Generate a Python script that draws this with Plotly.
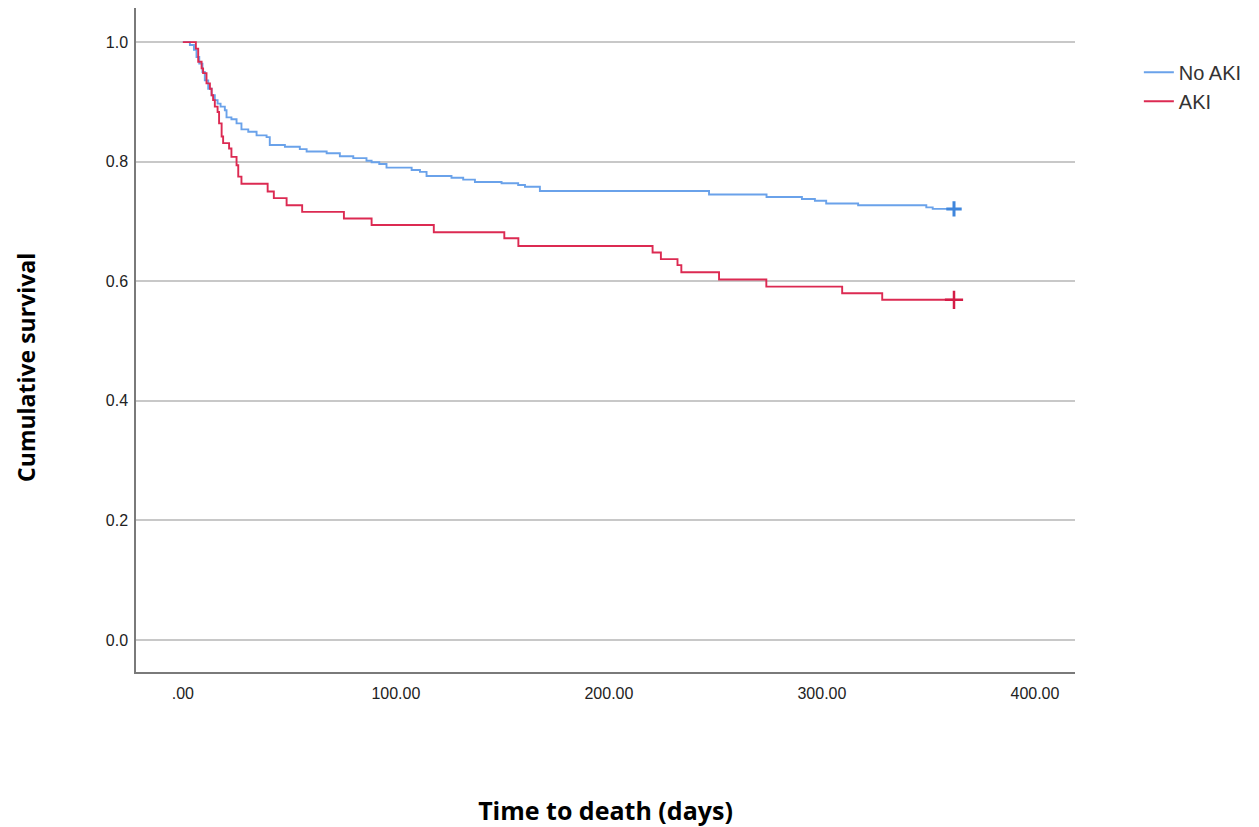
import plotly.graph_objects as go

# Kaplan-Meier step data (time in days, cumulative survival)
no_aki_time = [0, 3.3, 5.2, 6.4, 7.7, 9.2, 10.3, 11.9, 13.5, 15.0, 16.3, 17.7, 19.7, 20.5,
               22.8, 25.2, 27.5, 30.7, 34.6, 39.3, 40.8, 47.9, 54.9, 58.1, 67.5, 73.7,
               80.0, 86.2, 88.6, 92.2, 95.6, 107.4, 111.3, 114.4, 126.1, 131.6, 137.1,
               149.6, 157.4, 160.6, 167.6, 247.0, 274.0, 290.6, 296.7, 302.0, 317.0,
               349.0, 352.0, 362.0]
no_aki_surv = [1.0, 0.995, 0.987, 0.975, 0.964, 0.950, 0.936, 0.922, 0.911, 0.903, 0.897,
               0.892, 0.886, 0.874, 0.871, 0.864, 0.854, 0.850, 0.844, 0.841, 0.828,
               0.825, 0.821, 0.817, 0.814, 0.809, 0.806, 0.8015, 0.799, 0.796, 0.790,
               0.786, 0.783, 0.776, 0.773, 0.770, 0.766, 0.764, 0.761, 0.758, 0.751,
               0.745, 0.741, 0.7375, 0.7346, 0.730, 0.727, 0.7235, 0.721, 0.721]

aki_time = [0, 6.1, 7.2, 8.8, 9.5, 11.1, 12.7, 13.5, 14.2, 15.0, 16.3, 17.0, 18.2, 18.9,
            21.7, 22.8, 25.2, 26.0, 27.5, 39.8, 42.7, 48.7, 56.0, 75.6, 88.6, 117.8,
            150.9, 157.5, 220.5, 224.4, 232.2, 234.0, 251.7, 273.9, 309.5, 328.3, 362.0]
aki_surv = [1.0, 0.989, 0.967, 0.956, 0.948, 0.931, 0.922, 0.911, 0.903, 0.892, 0.883,
            0.864, 0.842, 0.831, 0.822, 0.808, 0.794, 0.775, 0.763, 0.750, 0.739, 0.727,
            0.716, 0.705, 0.694, 0.682, 0.672, 0.659, 0.648, 0.637, 0.627, 0.615, 0.603,
            0.591, 0.580, 0.569, 0.569]

y_ticks = [0.0, 0.2, 0.4, 0.6, 0.8, 1.0]
y_tick_text = ["0.0", "0.2", "0.4", "0.6", "0.8", "1.0"]
x_ticks = [0, 100, 200, 300, 400]
x_tick_text = [".00", "100.00", "200.00", "300.00", "400.00"]

blue = "#6aa2ea"
blue_dark = "#3f86dc"
red = "#dc2a52"
red_dark = "#d41c46"

fig = go.Figure()
fig.add_trace(go.Scatter(x=no_aki_time, y=no_aki_surv, mode="lines", line_shape="hv",
                         line=dict(color=blue, width=1.9), name="No AKI"))
fig.add_trace(go.Scatter(x=aki_time, y=aki_surv, mode="lines", line_shape="hv",
                         line=dict(color=red, width=1.9), name="AKI"))
# censor marks
fig.add_trace(go.Scatter(x=[no_aki_time[-1]], y=[no_aki_surv[-1]], mode="markers",
                         marker=dict(symbol="cross-thin", size=11,
                                     line=dict(color=blue_dark, width=3)),
                         showlegend=False, hoverinfo="skip"))
fig.add_trace(go.Scatter(x=[aki_time[-1]], y=[aki_surv[-1]], mode="markers",
                         marker=dict(symbol="cross-thin", size=13,
                                     line=dict(color=red_dark, width=2.5)),
                         showlegend=False, hoverinfo="skip"))

fig.add_annotation(text="<b>Cumulative survival</b>", textangle=-90,
                   xref="paper", yref="paper", x=0, y=0.458, xshift=-110,
                   xanchor="center", yanchor="middle", showarrow=False, borderpad=0,
                   font=dict(family="Open Sans", size=23, color="black"))

fig.update_layout(
    width=1251, height=819,
    margin=dict(l=128, r=184, t=0, b=155, autoexpand=False),
    paper_bgcolor="white", plot_bgcolor="white",
    font=dict(family="Liberation Sans, Arial", size=16, color="#222"),
    legend=dict(x=1.068, y=0.9325, xanchor="left", yanchor="top",
                font=dict(family="Liberation Sans, Arial", size=20, color="#333"),
                bgcolor="rgba(0,0,0,0)", itemwidth=30, tracegroupgap=0),
    xaxis=dict(range=[-22, 418.8], tickvals=x_ticks, ticktext=x_tick_text,
               showgrid=False, zeroline=False, showline=True, linecolor="#7a7a7a",
               linewidth=1.5, ticks="", ticklabelstandoff=6,
               tickfont=dict(size=16, color="#222"),
               title=dict(text="<b>Time to death (days)</b>", standoff=102,
                          font=dict(family="Open Sans", size=25, color="black"))),
    yaxis=dict(range=[-0.0535, 1.057], tickvals=y_ticks, ticktext=y_tick_text,
               showgrid=True, gridcolor="#c8c8c8", gridwidth=1.8, zeroline=False,
               showline=True, linecolor="#7a7a7a", linewidth=1.5, ticks="",
               ticklabelstandoff=3, tickfont=dict(size=16, color="#222")),
)

fig.write_html("out.html")
